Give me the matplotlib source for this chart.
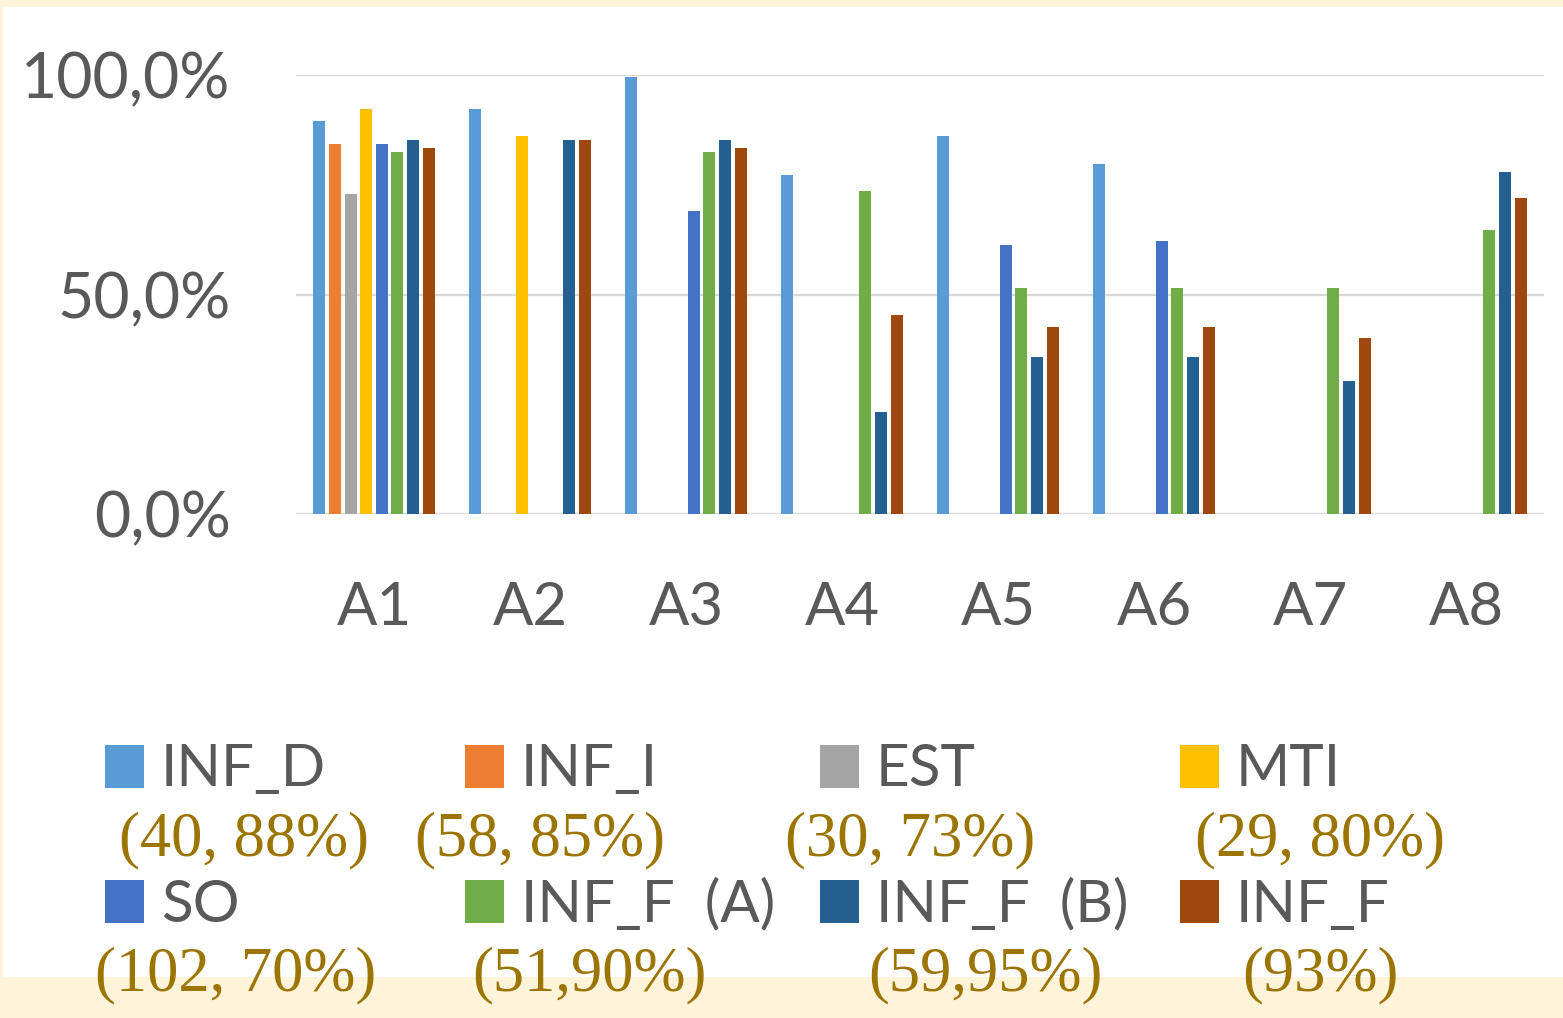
import matplotlib
matplotlib.use("Agg")
import matplotlib.pyplot as plt
import numpy as np
from matplotlib.patches import Rectangle
from matplotlib.ticker import FuncFormatter

nan = np.nan
grupos = ["A1", "A2", "A3", "A4", "A5", "A6", "A7", "A8"]
series = ["INF_D", "INF_I", "EST", "MTI", "SO", "INF_F  (A)", "INF_F  (B)", "INF_F"]
colores = ["#5B9BD5", "#ED7D31", "#A5A5A5", "#FFC000",
           "#4472C4", "#70AD47", "#255E91", "#9E480E"]

inf_d = [89.5, 92.2, 99.5, 77.2, 86.0, 79.7, nan, nan]
inf_i = [84.2, nan, nan, nan, nan, nan, nan, nan]
est = [72.8, nan, nan, nan, nan, nan, nan, nan]
mti = [92.2, 86.0, nan, nan, nan, nan, nan, nan]
so = [84.2, nan, 69.1, nan, 61.3, 62.2, nan, nan]
inf_f_a = [82.4, nan, 82.4, 73.6, 51.5, 51.5, 51.5, 64.7]
inf_f_b = [85.1, 85.1, 85.1, 23.3, 35.8, 35.8, 30.3, 78.0]
inf_f = [83.3, 85.1, 83.3, 45.3, 42.7, 42.7, 40.2, 71.9]
valores = [inf_d, inf_i, est, mti, so, inf_f_a, inf_f_b, inf_f]

# texto dorado bajo cada entrada de leyenda
notas = ["(40, 88%)", "(58, 85%)", "(30, 73%)", "(29, 80%)",
         "(102, 70%)", "(51,90%)", "(59,95%)", "(93%)"]

W, H = 1563, 1018
crema = "#FFF4DA"
gris = "#595959"
oro = "#9C7400"
sans = "Lato"

fig = plt.figure(figsize=(W / 100, H / 100), dpi=100, facecolor=crema)
fig.add_artist(Rectangle((3 / W, 1 - 977 / H), (W - 3) / W, 970 / H,
                         transform=fig.transFigure, facecolor="white",
                         edgecolor="none", zorder=0))

ax = fig.add_axes([296 / W, 1 - 514 / H, 1248 / W, 439 / H])
ax.set_facecolor("white")
x = np.arange(len(grupos))
paso, ancho = 0.1, 0.078
barras = []
for i, (vals, col) in enumerate(zip(valores, colores)):
    b = ax.bar(x + (i - 3.5) * paso, vals, ancho, color=col, label=series[i], zorder=3)
    barras.append(b)

ax.set_xlim(-0.5, len(grupos) - 0.5)
ax.set_ylim(0, 100)
ax.set_yticks([0, 50, 100])
ax.yaxis.set_major_formatter(FuncFormatter(lambda v, p: f"{v:.1f}%".replace(".", ",")))
ax.set_xticks(x)
ax.set_xticklabels(grupos)
ax.grid(axis="y", color="#D9D9D9", lw=1.6, zorder=0)
ax.set_axisbelow(True)
for s in ax.spines.values():
    s.set_visible(False)
ax.tick_params(axis="both", length=0, colors=gris)
ax.tick_params(axis="y", pad=47, labelsize=45)
ax.tick_params(axis="x", pad=48, labelsize=43)
for t in ax.get_xticklabels() + ax.get_yticklabels():
    t.set_family(sans)

# leyenda en cuadricula de 4 columnas
col_x = [105, 465, 820, 1180]
fila_y = [770, 905]
nota_x = [244, 540, 910, 1320, 236, 589, 985, 1320]
nota_y = [840, 975]
for k in range(8):
    fila, c = divmod(k, 4)
    fig.legend(handles=[barras[k]], labels=[series[k]], loc="center left",
               bbox_to_anchor=(col_x[c] / W, 1 - fila_y[fila] / H),
               frameon=False, borderpad=0, borderaxespad=0,
               handlelength=0.66, handleheight=0.76, handletextpad=0.3,
               prop={"family": sans, "size": 42}, labelcolor=gris)
    fig.text(nota_x[k] / W, 1 - nota_y[fila] / H, notas[k], ha="center", va="center",
             fontsize=45, color=oro, family="Liberation Serif", zorder=5)

fig.savefig("out.png", dpi=100, facecolor=crema)
